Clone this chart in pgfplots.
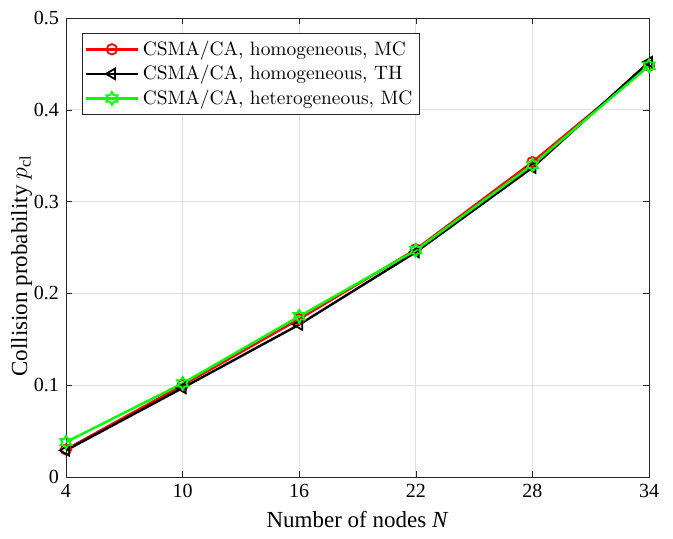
\documentclass[border=0pt]{standalone}
\usepackage{fontspec}
\setmainfont{Liberation Serif}
\newfontfamily\lmfont{Latin Modern Roman}
\usepackage{pgfplots}
\pgfplotsset{compat=1.18}
\usetikzlibrary{plotmarks}

\definecolor{mred}{RGB}{255,0,0}
\definecolor{mgreen}{RGB}{0,255,0}
\definecolor{axgray}{RGB}{38,38,38}

% six-pointed star outline, like MATLAB's hexagram
\pgfdeclareplotmark{hexagram}{%
  \pgfpathmoveto{\pgfpointpolar{90}{\pgfplotmarksize}}%
  \pgfpathlineto{\pgfpointpolar{120}{0.577\pgfplotmarksize}}%
  \pgfpathlineto{\pgfpointpolar{150}{\pgfplotmarksize}}%
  \pgfpathlineto{\pgfpointpolar{180}{0.577\pgfplotmarksize}}%
  \pgfpathlineto{\pgfpointpolar{210}{\pgfplotmarksize}}%
  \pgfpathlineto{\pgfpointpolar{240}{0.577\pgfplotmarksize}}%
  \pgfpathlineto{\pgfpointpolar{270}{\pgfplotmarksize}}%
  \pgfpathlineto{\pgfpointpolar{300}{0.577\pgfplotmarksize}}%
  \pgfpathlineto{\pgfpointpolar{330}{\pgfplotmarksize}}%
  \pgfpathlineto{\pgfpointpolar{0}{0.577\pgfplotmarksize}}%
  \pgfpathlineto{\pgfpointpolar{30}{\pgfplotmarksize}}%
  \pgfpathlineto{\pgfpointpolar{60}{0.577\pgfplotmarksize}}%
  \pgfpathclose
  \pgfusepathqstroke}

\begin{document}
\begin{tikzpicture}
\begin{axis}[
  width=291.5pt, height=229.5pt, scale only axis,
  xmin=4, xmax=34, ymin=0, ymax=0.5,
  xtick={4,10,16,22,28,34},
  ytick={0,0.1,0.2,0.3,0.4,0.5},
  /pgf/number format/assume math mode=true,
  yticklabel style={/pgf/number format/fixed},
  tick label style={font=\fontsize{10}{12}\selectfont},
  xlabel={Number of nodes \textit{N}},
  ylabel={Collision probability $p_{\mathrm{cl}}$},
  label style={font=\fontsize{11.5}{13}\selectfont},
  ylabel style={at={(axis description cs:-0.046,0.46)}, anchor=south},
  grid=major,
  major grid style={draw=black!12, line width=0.4pt},
  axis line style={draw=axgray, line width=0.4pt},
  tick style={draw=axgray},
  tick align=inside,
  major tick length=3pt,
  legend cell align=left,
  legend style={at={(0.027,0.967)}, anchor=north west,
    font=\lmfont\fontsize{9.7}{11.5}\selectfont,
    draw=axgray, line width=0.4pt, inner sep=1.5pt, row sep=-0.5pt},
  legend image code/.code={%
    \draw[mark repeat=2,mark phase=2] plot coordinates {(0cm,0cm) (0.45cm,0cm) (0.9cm,0cm)};},
]
\addplot[mred, line width=1.2pt, mark=o, mark size=2.6pt, mark options={solid, line width=0.9pt}]
  coordinates {(4,0.030) (10,0.100) (16,0.172) (22,0.248) (28,0.343) (34,0.448)};
\addlegendentry{CSMA/CA, homogeneous, MC}
\addplot[black, line width=1.2pt, mark=triangle, mark size=3pt, mark options={solid, rotate=90, line width=0.9pt}]
  coordinates {(4,0.029) (10,0.097) (16,0.166) (22,0.245) (28,0.337) (34,0.452)};
\addlegendentry{CSMA/CA, homogeneous, TH}
\addplot[mgreen, line width=1.2pt, mark=hexagram, mark size=3.2pt, mark options={solid, line width=0.9pt}]
  coordinates {(4,0.038) (10,0.102) (16,0.175) (22,0.247) (28,0.340) (34,0.448)};
\addlegendentry{CSMA/CA, heterogeneous, MC}
\end{axis}
% page margins as in the reference
\path (current axis.south west) ++(-33pt,-31pt) coordinate (bbsw);
\path (current axis.north east) ++(12pt,9pt) coordinate (bbne);
\path (bbsw) rectangle (bbne);
\end{tikzpicture}
\end{document}
